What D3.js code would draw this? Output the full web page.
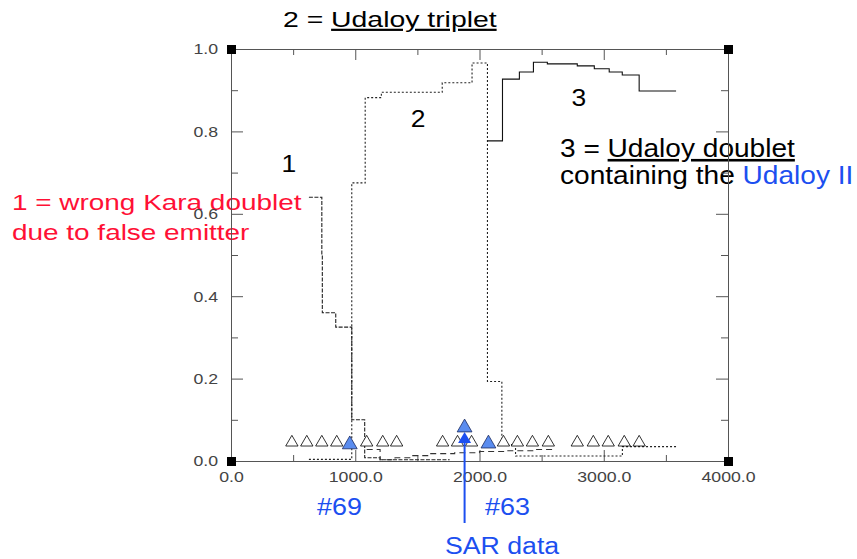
<!DOCTYPE html>
<html>
<head>
<meta charset="utf-8">
<script src="https://cdn.jsdelivr.net/npm/d3@7"></script>
<style>
body{margin:0;background:#fff;}
text{font-family:"Liberation Sans",Arial,sans-serif;}
</style>
</head>
<body>
<svg id="chart" width="857" height="559"></svg>
<script>
// tick values
var xTicks=[0,1000,2000,3000,4000];
var xMinor=[500,1500,2500,3500];
var yTicks=[0,0.2,0.4,0.6,0.8,1.0];
var yMinor=[0.1,0.3,0.5,0.7,0.9];

// hypothesis curves [time, probability], drawn as steps
var kara=[[627,0.64],[731,0.50],[735,0.36],[843,0.325],[972,0.10],[1076,0.008],[1200,0.003],[1760,0.003]];
var triplet=[[627,0.004],[972,0.675],[1080,0.882],[1210,0.895],[1700,0.918],[1940,0.966],[2064,0.193],[2180,0.04],[2290,0.012],[3150,0.035],[3582,0.04]];
var doublet=[[2064,0.777],[2185,0.927],[2321,0.944],[2434,0.968],[2546,0.964],[2787,0.959],[2924,0.952],[3044,0.944],[3149,0.937],[3285,0.898],[3582,0.898]];
var other=[[1092,0.028],[1200,0.003],[1320,0.008],[1450,0.013],[1600,0.018],[1800,0.02],[2000,0.023],[2200,0.025],[2450,0.028],[2600,0.03]];

// reports
var esm=[[490,0.045],[610,0.045],[731,0.045],[851,0.045],[1092,0.045],[1221,0.045],[1333,0.045],
         [1703,0.045],[1823,0.045],[1936,0.045],[2193,0.045],[2305,0.045],[2426,0.045],[2554,0.045],
         [2787,0.045],[2916,0.045],[3036,0.045],[3165,0.045],[3285,0.045]];
var sar=[[956,0.04],[1880,0.081],[2072,0.042]];

var svg=d3.select('#chart');
var x=d3.scaleLinear().domain([0,4000]).range([231,728]);
var y=d3.scaleLinear().domain([0,1]).range([461,49]);

var blue='#1c4ff0', red='#ff1035';

//TEXT----------------------------------------------------------------
function label(tx,ty,size,sx){
    return svg.append('text')
        .attr('transform','translate('+tx+','+ty+') scale('+sx+',1)')
        .style('font-size',size+'px');
}
var t=label(283,27,22,1.29).attr('fill','#000');
t.append('tspan').text('2 = ');
t.append('tspan').style('text-decoration','underline').text(' Udaloy triplet');

t=label(560,157,26,1.08).attr('fill','#000');
t.append('tspan').text('3 = ');
t.append('tspan').style('text-decoration','underline').text('Udaloy doublet');
t=label(560,184,26,1.08).attr('fill','#000');
t.append('tspan').text('containing the ');
t.append('tspan').attr('fill',blue).text('Udaloy II');

label(12,210,22,1.27).attr('fill',red).text('1 = wrong Kara doublet');
label(12,240,22,1.27).attr('fill',red).text('due to false emitter');

label(317,515,23,1.17).attr('fill',blue).text('#69');
label(485,515,23,1.17).attr('fill',blue).text('#63');
label(445,554,23,1.16).attr('fill',blue).text('SAR data');

//AXES----------------------------------------------------------------
function styleAxis(g){
    g.selectAll('path,line').attr('stroke','#555').attr('stroke-width',1);
    g.selectAll('text').attr('fill','#444').style('font-size','15px');
}
var gb=svg.append('g').attr('transform','translate(0,461)')
    .call(d3.axisBottom(x).tickValues(xTicks).tickSize(-11).tickSizeOuter(0)
        .tickPadding(10).tickFormat(d3.format('.1f')));
gb.selectAll('text').attr('transform','scale(1.18,1)');
styleAxis(gb);
svg.append('g').attr('transform','translate(0,461)')
    .call(d3.axisBottom(x).tickValues(xMinor).tickSize(-6).tickSizeOuter(0).tickFormat(''))
    .call(styleAxis).select('.domain').remove();

var gt=svg.append('g').attr('transform','translate(0,49)')
    .call(d3.axisTop(x).tickValues(xTicks).tickSize(-11).tickSizeOuter(0).tickFormat(''));
styleAxis(gt);
svg.append('g').attr('transform','translate(0,49)')
    .call(d3.axisTop(x).tickValues(xMinor).tickSize(-6).tickSizeOuter(0).tickFormat(''))
    .call(styleAxis).select('.domain').remove();

var gl=svg.append('g').attr('transform','translate(231,0)')
    .call(d3.axisLeft(y).tickValues(yTicks).tickSize(-12).tickSizeOuter(0)
        .tickPadding(11).tickFormat(d3.format('.1f')));
gl.selectAll('text').attr('transform','scale(1.18,1)');
styleAxis(gl);
svg.append('g').attr('transform','translate(231,0)')
    .call(d3.axisLeft(y).tickValues(yMinor).tickSize(-7).tickSizeOuter(0).tickFormat(''))
    .call(styleAxis).select('.domain').remove();

var gr=svg.append('g').attr('transform','translate(728,0)')
    .call(d3.axisRight(y).tickValues(yTicks).tickSize(-12).tickSizeOuter(0).tickFormat(''));
styleAxis(gr);
svg.append('g').attr('transform','translate(728,0)')
    .call(d3.axisRight(y).tickValues(yMinor).tickSize(-7).tickSizeOuter(0).tickFormat(''))
    .call(styleAxis).select('.domain').remove();

// corner squares
var corners=[[0,0],[0,1],[4000,0],[4000,1]];
svg.selectAll('rect.corner').data(corners).enter().append('rect')
    .attr('class','corner')
    .attr('x',function(d){return x(d[0])-4;})
    .attr('y',function(d){return y(d[1])-4;})
    .attr('width',9).attr('height',9)
    .attr('fill','#000');

//CURVES----------------------------------------------------------------
var line=d3.line()
    .x(function(d){return x(d[0]);})
    .y(function(d){return y(d[1]);})
    .curve(d3.curveStepAfter);

var curves=[
    {data:kara,dash:'4,1.5',color:'#222'},
    {data:triplet,dash:'2,2',color:'#222'},
    {data:other,dash:'6,4',color:'#333'},
    {data:doublet,dash:null,color:'#111'}
];
svg.selectAll('path.curve').data(curves).enter().append('path')
    .attr('class','curve')
    .attr('d',function(d){return line(d.data);})
    .attr('fill','none')
    .attr('stroke',function(d){return d.color;})
    .attr('stroke-width',1.1)
    .attr('stroke-dasharray',function(d){return d.dash;});

// curve numbers
var nums=[[465,0.702,'1'],[1505,0.811,'2'],[2800,0.861,'3']];
svg.selectAll('text.num').data(nums).enter().append('text')
    .attr('class','num')
    .attr('transform',function(d){return 'translate('+x(d[0])+','+y(d[1])+') scale(1.15,1)';})
    .attr('text-anchor','middle')
    .style('font-size','23px')
    .attr('fill','#000')
    .text(function(d){return d[2];});

//REPORTS----------------------------------------------------------------
var tri=d3.symbol().type(d3.symbolTriangle);
svg.selectAll('path.esm').data(esm).enter().append('path')
    .attr('class','esm')
    .attr('d',tri.size(66)())
    .attr('transform',function(d){return 'translate('+x(d[0])+','+y(d[1])+')';})
    .attr('fill','#fff')
    .attr('stroke','#000')
    .attr('stroke-width',0.8);

svg.selectAll('path.sar').data(sar).enter().append('path')
    .attr('class','sar')
    .attr('d',tri.size(95)())
    .attr('transform',function(d){return 'translate('+x(d[0])+','+y(d[1])+')';})
    .attr('fill','#5a8cef')
    .attr('stroke','#1a2a60')
    .attr('stroke-width',0.8);

// SAR arrow
var ax=x(sar[1][0]);
svg.append('line')
    .attr('x1',ax).attr('x2',ax)
    .attr('y1',523).attr('y2',440)
    .attr('stroke',blue).attr('stroke-width',2);
svg.append('path')
    .attr('d','M'+(ax-6.5)+',443 L'+(ax+6.5)+',443 L'+ax+',432 Z')
    .attr('fill',blue);
</script>
</body>
</html>
